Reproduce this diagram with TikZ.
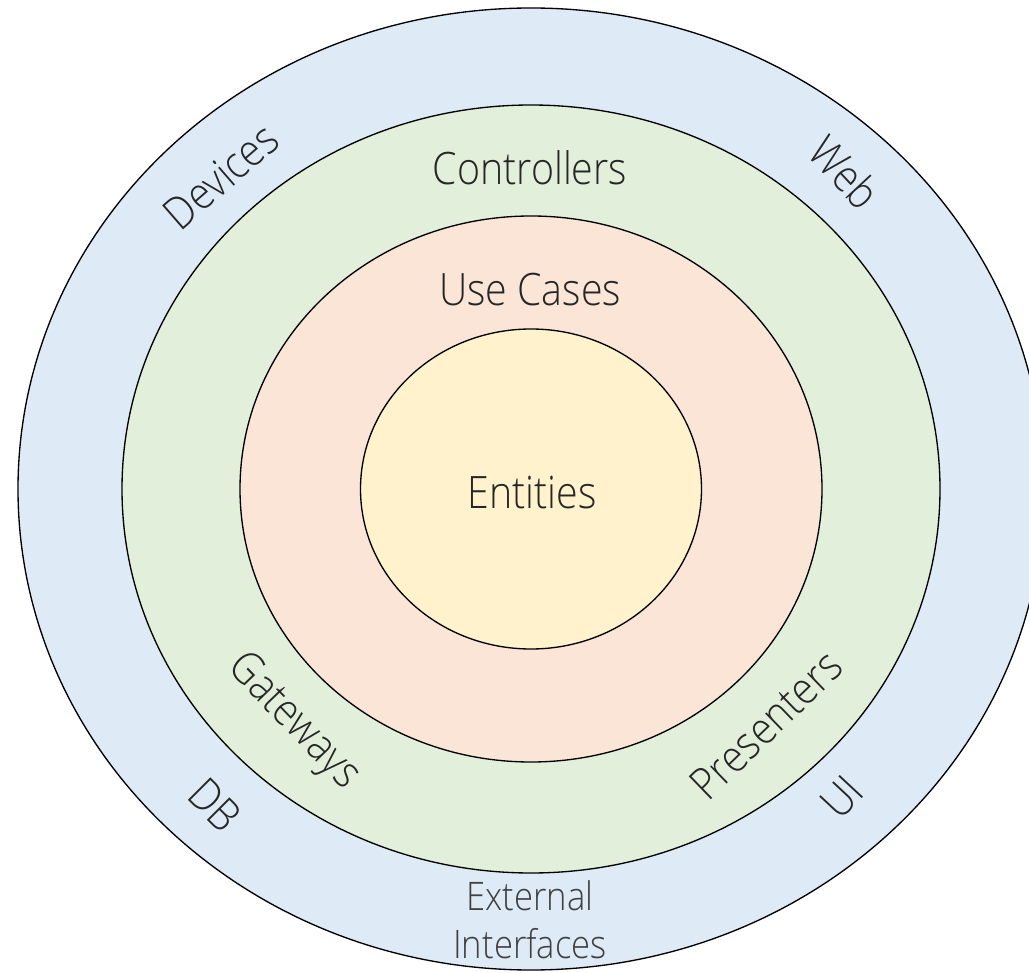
\documentclass[tikz,border=0pt]{standalone}
\usepackage{fontspec}
\setmainfont{Open Sans}[UprightFont={* Light}]
\usepackage{graphicx}
\definecolor{ringblue}{HTML}{DEEAF6}
\definecolor{ringgreen}{HTML}{E2EFDA}
\definecolor{ringpink}{HTML}{FBE5D6}
\definecolor{ringyellow}{HTML}{FFF2CC}
\newcommand{\lbltxt}[1]{\scalebox{0.88}[1]{#1}}
\begin{document}
\begin{tikzpicture}[x=0.75pt,y=-0.75pt,
  ring/.style={draw=black, line width=1pt},
  lbl/.style={inner sep=0pt, text=black!85, font=\fontsize{33.5}{40}\selectfont},
  extlbl/.style={inner sep=0pt, text=black!75, align=center, font=\fontsize{29.5}{36}\selectfont}]
\clip (0,0) rectangle (1029,973);
\coordinate (c) at (531,489);
\fill[white] (0,0) rectangle (1029,973);
\draw[ring, fill=ringblue]   (c) ellipse [x radius=513, y radius=481];
\draw[ring, fill=ringgreen]  (c) ellipse [x radius=409, y radius=384];
\draw[ring, fill=ringpink]   (c) ellipse [x radius=291, y radius=273];
\draw[ring, fill=ringyellow] (c) ellipse [x radius=170.5, y radius=160];

\node[lbl] (entities) at (532,493) {\lbltxt{Entities}};
\node[lbl] (usecases) at (530,290) {\lbltxt{Use Cases}};
\node[lbl] (controllers) at (530,168) {\lbltxt{Controllers}};
\node[lbl, rotate=41] (devices) at (221,176) {\lbltxt{Devices}};
\node[lbl, rotate=-47] (web) at (845,172) {\lbltxt{Web}};
\node[lbl, rotate=-46] (gateways) at (293,722) {\lbltxt{Gateways}};
\node[lbl, rotate=-45] (db) at (215,805) {\lbltxt{DB}};
\node[lbl, rotate=44] (presenters) at (766,725) {\lbltxt{Presenters}};
\node[lbl, rotate=47] (ui) at (842,797) {\lbltxt{UI}};
\node[extlbl] (external) at (530,920) {\lbltxt{External}\\\lbltxt{Interfaces}};
\end{tikzpicture}
\end{document}
